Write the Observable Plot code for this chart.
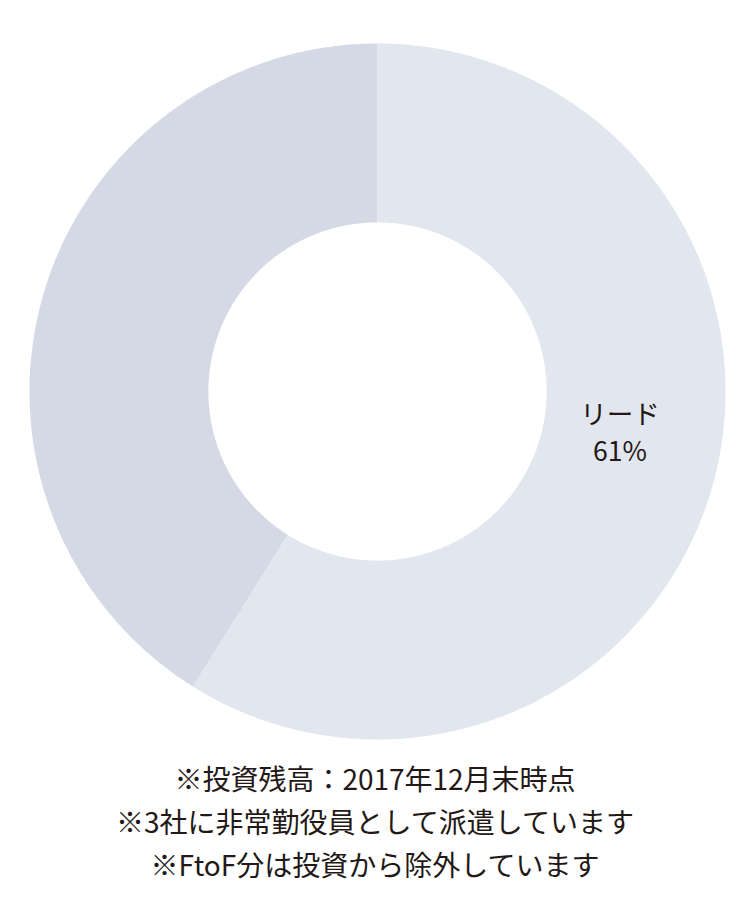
<!DOCTYPE html>
<html>
<head>
<meta charset="utf-8">
<script src="https://cdn.jsdelivr.net/npm/d3@7"></script>
<script src="https://cdn.jsdelivr.net/npm/@observablehq/plot@0.6"></script>
<style>
  html, body { margin: 0; padding: 0; background: #fff; }
  #chart { width: 750px; }
  #caption {
    width: 750px;
    text-align: center;
    font-family: "Noto Sans CJK JP", "Noto Sans", sans-serif;
    font-size: 28px;
    line-height: 43px;
    color: #231815;
    margin-top: 2px;
  }
</style>
</head>
<body>
<div id="chart"></div>
<div id="caption"></div>
<script>
// ---- data ----
const categories = ["リード", "その他"];
const values = [58.9, 41.1];          // slice sizes as drawn
const sliceLabels = ["リード\n61%", ""]; // labels as printed
const colors = ["#e2e6ee", "#d4d9e5"];
const captionLines = [
  "※投資残高：2017年12月末時点",
  "※3社に非常勤役員として派遣しています",
  "※FtoF分は投資から除外しています"
];
const innerRatio = 0.486;

// ---- build donut polygons from data ----
const arcs = d3.pie().sort(null).value(d => d)(values);
const poly = [];
arcs.forEach((a, i) => {
  const n = Math.max(8, Math.ceil((a.endAngle - a.startAngle) / (Math.PI / 360)));
  for (let k = 0; k <= n; k++) {
    const t = a.startAngle + (a.endAngle - a.startAngle) * k / n;
    poly.push({slice: categories[i], x: Math.sin(t), y: Math.cos(t)});
  }
  for (let k = n; k >= 0; k--) {
    const t = a.startAngle + (a.endAngle - a.startAngle) * k / n;
    poly.push({slice: categories[i], x: innerRatio * Math.sin(t), y: innerRatio * Math.cos(t)});
  }
});
const labelRows = arcs.map((a, i) => {
  const m = (a.startAngle + a.endAngle) / 2;
  const r = (1 + innerRatio) / 2;
  return {slice: categories[i], text: sliceLabels[i], x: r * Math.sin(m), y: r * Math.cos(m)};
}).filter(d => d.text);

const plot = Plot.plot({
  width: 750,
  height: 755,
  marginLeft: 29,
  marginRight: 25,
  marginTop: 43,
  marginBottom: 16,
  x: {domain: [-1, 1], axis: null},
  y: {domain: [-1, 1], axis: null},
  color: {type: "ordinal", domain: categories, range: colors},
  style: {background: "#fff", fontFamily: "'Noto Sans CJK JP', sans-serif"},
  marks: [
    Plot.line(poly, {x: "x", y: "y", z: "slice", fill: "slice", stroke: "none", curve: "linear-closed"}),
    Plot.text(labelRows, {
      x: "x", y: "y", text: "text",
      fontSize: 26.5, lineHeight: 1.38,
      fill: "#231815",
      dx: -6, dy: -32
    })
  ]
});
document.getElementById("chart").appendChild(plot);
document.getElementById("caption").innerHTML = captionLines.map(s => `<div>${s}</div>`).join("");
</script>
</body>
</html>
